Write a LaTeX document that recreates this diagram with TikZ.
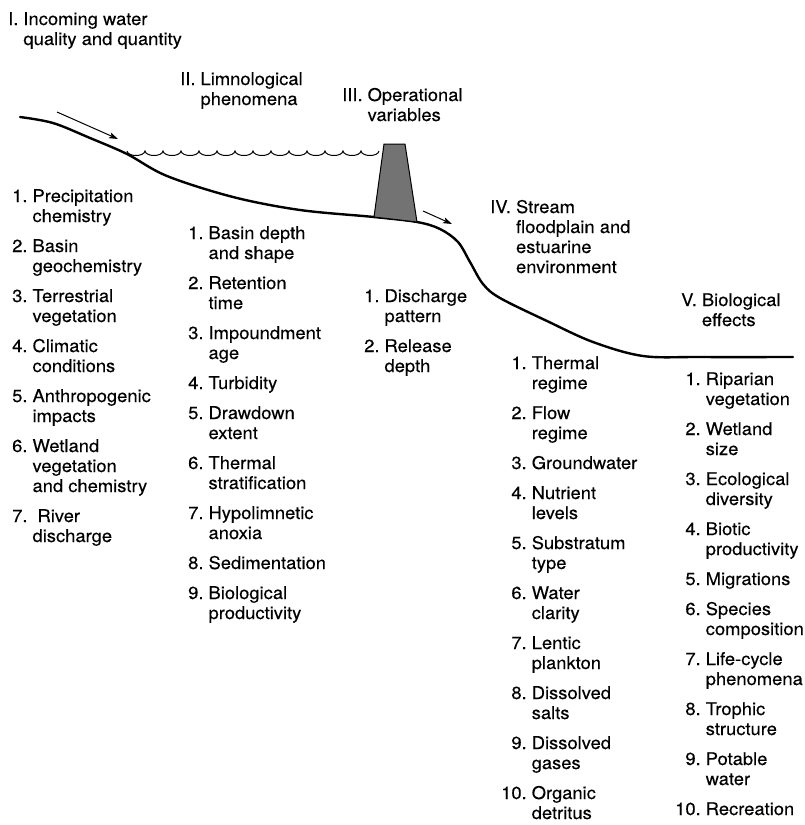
\documentclass[tikz,border=0pt]{standalone}
\usepackage{fontspec}
\setmainfont{TeX Gyre Heros}[FakeStretch=1.05, FakeBold=0.3]
\usepackage{tikz}
\usetikzlibrary{arrows.meta}
\tikzset{txt/.style={anchor=base west, inner sep=0pt, text=black,
    font=\fontsize{17.5}{20}\selectfont}}
\tikzset{ground/.style={line width=2.4pt, line cap=round, line join=round}}
\tikzset{water/.style={line width=1pt}}
\tikzset{dam/.style={draw=black, line width=1pt, fill=black!55}}
\tikzset{flow/.style={-{Stealth[length=9pt, width=6pt, inset=2pt]}, line width=1pt}}
% number in front, text hanging after it
\newcommand{\numbered}[1]{\begin{tabular}[t]{@{}r@{\hspace{5pt}}l@{}}#1\end{tabular}}
\newcommand{\itemgap}{\\[10pt]}

\begin{document}
\begin{tikzpicture}[x=1pt,y=-1pt]
  \useasboundingbox (0,0) rectangle (805,825);
  % the valley profile from the inflow down to the estuary
  \draw[ground] plot[smooth, tension=0.55] coordinates {
    (20,117) (53,123) (90,138) (127,154) (167,176) (233,197) (300,210)
    (374,217) (417,222) (440,229) (458,242) (470,262) (483,284) (500,298)
    (547,321) (593,342) (643,356) (700,357) (793,357)};
  % lake surface
  \draw[water] (127,151) \foreach \i in {1,...,14} {
    .. controls +(1,6) and +(-1,6) .. ++(18,0) };
  % dam
  \draw[dam] (384,144) -- (405,144) -- (417,222) -- (374,217) -- cycle;
  % in- and outflow
  \coordinate (inA) at (57,112);
  \coordinate (inB) at (118,139);
  \coordinate (outA) at (423,211);
  \coordinate (outB) at (452,224);
  \draw[flow] (inA) -- (inB);
  \draw[flow] (outA) -- (outB);
  % headings
  \foreach \x/\y/\lab/\num/\txt in {
    8/25/head1/I./{Incoming water\\&quality and quantity},
    180/85/head2/II./{Limnological\\&phenomena},
    342/101/head3/III./{Operational\\&variables},
    490/213/head4/IV./{Stream\\&floodplain and\\&estuarine\\&environment},
    681/306/head5/V./{Biological\\&effects}%
  } {
    \node[txt] (\lab) at (\x,\y) {\numbered{\num&\txt}};
  }
  % factor lists
  \node[txt] (list1) at (12,202) {\numbered{
    1.&Precipitation\\&chemistry\itemgap
    2.&Basin\\&geochemistry\itemgap
    3.&Terrestrial\\&vegetation\itemgap
    4.&Climatic\\&conditions\itemgap
    5.&Anthropogenic\\&impacts\itemgap
    6.&Wetland\\&vegetation\\&and chemistry\itemgap
    7.&\hspace{5pt}River\\&discharge}};
  \node[txt] (list2) at (188,239) {\numbered{
    1.&Basin depth\\&and shape\itemgap
    2.&Retention\\&time\itemgap
    3.&Impoundment\\&age\itemgap
    4.&Turbidity\itemgap
    5.&Drawdown\\&extent\itemgap
    6.&Thermal\\&stratification\itemgap
    7.&Hypolimnetic\\&anoxia\itemgap
    8.&Sedimentation\itemgap
    9.&Biological\\&productivity}};
  \node[txt] (list3) at (364,302) {\numbered{
    1.&Discharge\\&pattern\itemgap
    2.&Release\\&depth}};
  \node[txt] (list4) at (501,369) {\numbered{
    1.&Thermal\\&regime\itemgap
    2.&Flow\\&regime\itemgap
    3.&Groundwater\itemgap
    4.&Nutrient\\&levels\itemgap
    5.&Substratum\\&type\itemgap
    6.&Water\\&clarity\itemgap
    7.&Lentic\\&plankton\itemgap
    8.&Dissolved\\&salts\itemgap
    9.&Dissolved\\&gases\itemgap
    10.&Organic\\&detritus}};
  \node[txt] (list5) at (675,385) {\numbered{
    1.&Riparian\\&vegetation\itemgap
    2.&Wetland\\&size\itemgap
    3.&Ecological\\&diversity\itemgap
    4.&Biotic\\&productivity\itemgap
    5.&Migrations\itemgap
    6.&Species\\&composition\itemgap
    7.&Life-cycle\\&phenomena\itemgap
    8.&Trophic\\&structure\itemgap
    9.&Potable\\&water\itemgap
    10.&Recreation}};
\end{tikzpicture}
\end{document}
